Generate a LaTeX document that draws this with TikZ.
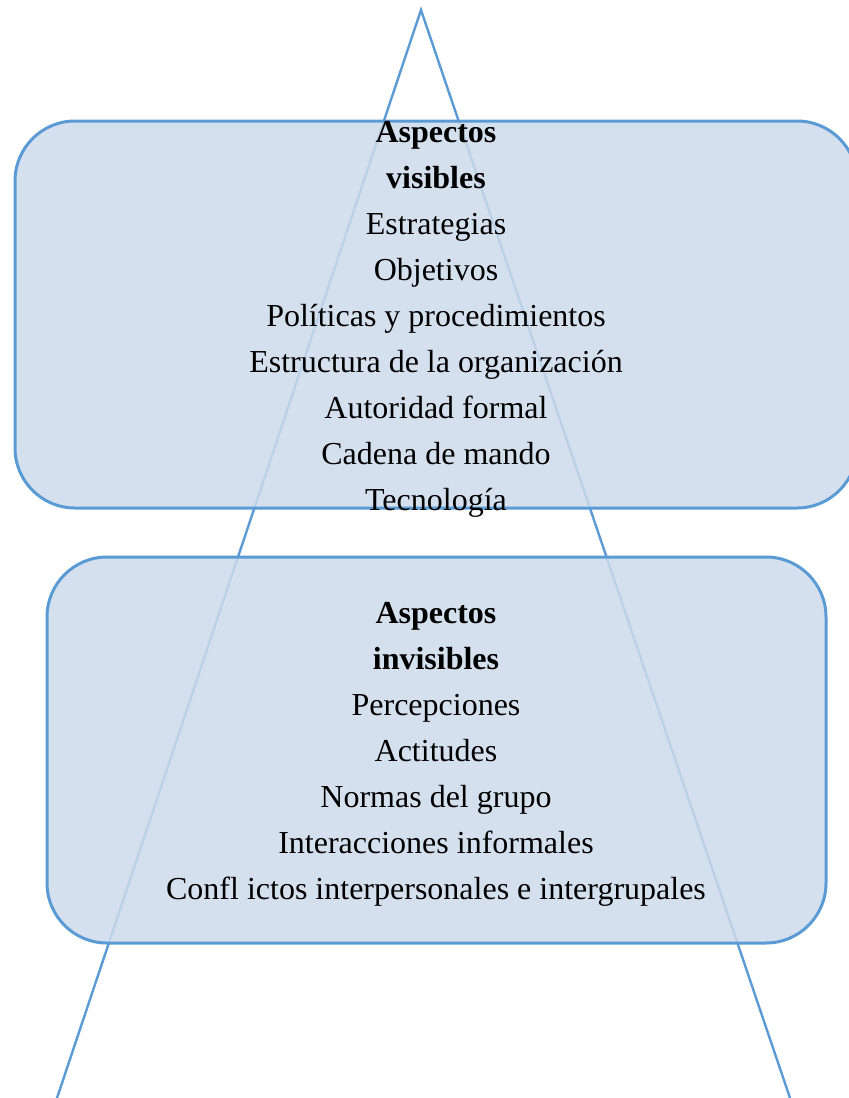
\documentclass[tikz,border=0pt]{standalone}
\usepackage{fontspec}
\setmainfont{Liberation Serif}
\definecolor{edgeblue}{RGB}{91,155,213}
\definecolor{boxfill}{RGB}{206,219,236}
\begin{document}
\begin{tikzpicture}[x=0.5pt, y=-0.5pt,
        part/.style={rectangle, draw=edgeblue, line width=1.5pt, fill=boxfill, fill opacity=0.85, rounded corners=30pt, inner sep=0pt},
        words/.style={align=center, font=\fontsize{16}{23}\selectfont, text=black}
    ]
    \useasboundingbox (0,0) rectangle (849,1098);
    
    % Define iceberg
    \coordinate (top) at (421,10);
    \coordinate (baseleft) at (57,1098);
    \coordinate (baseright) at (790,1098);
    \draw[edgeblue, line width=1.2pt] (baseleft) -- (top) -- (baseright);
    
    % Define parts
    \node[part, minimum width=421pt, minimum height=193.5pt] (visible) at (436,314.5) {};
    \node[part, minimum width=389.5pt, minimum height=193pt] (invisible) at (436.5,750) {};
    
    \node[words] (visibletext) at (436,319) {\textbf{Aspectos}\\\textbf{visibles}\\Estrategias\\Objetivos\\Políticas y procedimientos\\Estructura de la organización\\Autoridad formal\\Cadena de mando\\Tecnología};
    \node[words] (invisibletext) at (436,754) {\textbf{Aspectos}\\\textbf{invisibles}\\Percepciones\\Actitudes\\Normas del grupo\\Interacciones informales\\Confl ictos interpersonales e intergrupales};
    
    \end{tikzpicture}
\end{document}
